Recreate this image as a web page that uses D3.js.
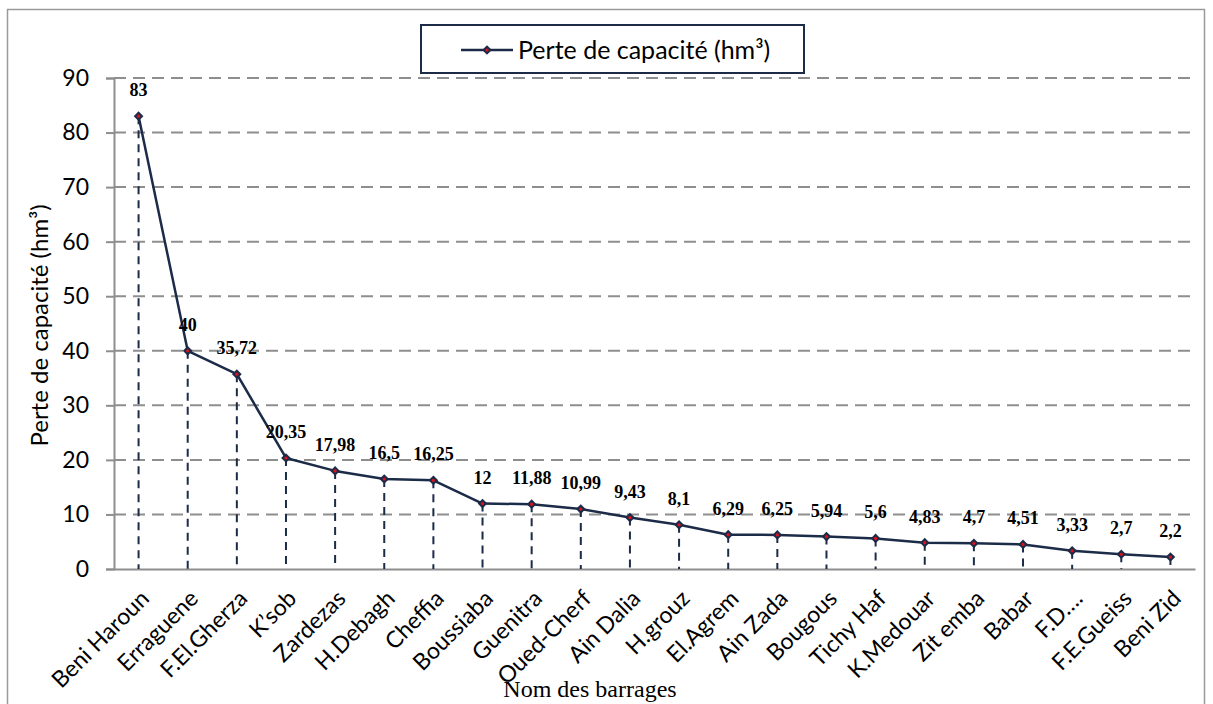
<!DOCTYPE html>
<html>
<head>
<meta charset="utf-8">
<script src="https://cdn.jsdelivr.net/npm/d3@7"></script>
<style>
  html, body { margin: 0; padding: 0; background: #fff; }
  svg { display: block; }
</style>
</head>
<body>
<svg id="chart" width="1213" height="704"></svg>
<script>
// ---- data ----
const categories = ["Beni Haroun", "Erraguene", "F.El.Gherza", "K\u2019sob", "Zardezas", "H.Debagh", "Cheffia",
  "Boussiaba", "Guenitra", "Oued-Cherf", "Ain Dalia", "H.grouz", "El.Agrem", "Ain Zada", "Bougous",
  "Tichy Haf", "K.Medouar", "Zit emba", "Babar", "F.D\u2026.", "F.E.Gueiss", "Beni Zid"];
const values = [83, 40, 35.72, 20.35, 17.98, 16.5, 16.25, 12, 11.88, 10.99, 9.43, 8.1, 6.29, 6.25, 5.94,
  5.6, 4.83, 4.7, 4.51, 3.33, 2.7, 2.2];
const valueLabels = ["83", "40", "35,72", "20,35", "17,98", "16,5", "16,25", "12", "11,88", "10,99", "9,43",
  "8,1", "6,29", "6,25", "5,94", "5,6", "4,83", "4,7", "4,51", "3,33", "2,7", "2,2"];
const yTicks = [0, 10, 20, 30, 40, 50, 60, 70, 80, 90];
const seriesName = "Perte de capacit\u00e9 (hm\u00b3)";
const yTitle = "Perte de capacit\u00e9 (hm\u00b3)";
const xTitle = "Nom des barrages";

// ---- layout ----
const svg = d3.select("#chart");
const W = 1213, H = 704;
const plot = { left: 114, right: 1195, top: 78, bottom: 569 };
const navy = "#1c2b48";
const grid = "#8e8e8e";
const sans = "Lato, 'Open Sans', sans-serif";
const serif = "'Liberation Serif', 'Times New Roman', serif";

svg.append("rect").attr("width", W).attr("height", H).attr("fill", "#fff");
// outer chart border
svg.append("rect").attr("x", 7.5).attr("y", 9.5).attr("width", 1197).attr("height", 705)
  .attr("fill", "none").attr("stroke", "#9a9a9a").attr("stroke-width", 1.5);

const x = d3.scaleBand().domain(categories).range([plot.left, plot.right]).padding(0);
const y = d3.scaleLinear().domain([0, 90]).range([plot.bottom, plot.top]);
const cx = c => x(c) + x.bandwidth() / 2;

// gridlines
svg.append("g").selectAll("line").data(yTicks.filter(t => t > 0)).join("line")
  .attr("x1", plot.left).attr("x2", plot.right)
  .attr("y1", d => y(d)).attr("y2", d => y(d))
  .attr("stroke", grid).attr("stroke-width", 2).attr("stroke-dasharray", "12,7");

// y axis
const yAxis = d3.axisLeft(y).tickValues(yTicks).tickSize(8).tickPadding(17).tickFormat(d3.format("d"));
const gy = svg.append("g").attr("transform", `translate(${plot.left},0)`).call(yAxis);
gy.select(".domain").attr("stroke", grid).attr("stroke-width", 2);
gy.selectAll(".tick line").attr("stroke", grid).attr("stroke-width", 2);
gy.selectAll(".tick text").attr("font-family", sans).attr("font-size", 23).attr("fill", "#000");

// x axis
const xAxis = d3.axisBottom(x).tickSize(0).tickFormat("");
const gx = svg.append("g").attr("transform", `translate(0,${plot.bottom})`).call(xAxis);
gx.select(".domain").attr("stroke", grid).attr("stroke-width", 2);

// x labels
svg.append("g").selectAll("text").data(categories).join("text")
  .attr("transform", d => `translate(${cx(d) + 12},${plot.bottom + 31}) rotate(-45)`)
  .attr("text-anchor", "end")
  .attr("font-family", sans).attr("font-size", 23).attr("fill", "#000")
  .text(d => d);

// drop lines
const pts = categories.map((c, i) => ({ c, v: values[i], lab: valueLabels[i] }));
svg.append("g").selectAll("line").data(pts).join("line")
  .attr("x1", d => cx(d.c)).attr("x2", d => cx(d.c))
  .attr("y1", d => y(d.v)).attr("y2", plot.bottom)
  .attr("stroke", navy).attr("stroke-width", 2).attr("stroke-dasharray", "8,6");

// series line
const line = d3.line().x(d => cx(d.c)).y(d => y(d.v));
svg.append("path").datum(pts).attr("d", line)
  .attr("fill", "none").attr("stroke", navy).attr("stroke-width", 2.5).attr("stroke-linejoin", "round");

// markers
const diamond = d3.symbol().type(d3.symbolDiamond2).size(60);
const mk = svg.append("g").selectAll("g").data(pts).join("g")
  .attr("transform", d => `translate(${cx(d.c)},${y(d.v)})`);
mk.append("path").attr("d", diamond).attr("fill", navy);
mk.append("circle").attr("r", 1.6).attr("fill", "#e0101a");

// data labels
svg.append("g").selectAll("text").data(pts).join("text")
  .attr("x", d => cx(d.c)).attr("y", d => y(d.v) - 20)
  .attr("text-anchor", "middle")
  .attr("font-family", serif).attr("font-weight", "bold").attr("font-size", 18).attr("fill", "#000")
  .text(d => d.lab);

// axis titles
svg.append("text")
  .attr("transform", `translate(48,${(plot.top + plot.bottom) / 2 + 2}) rotate(-90)`)
  .attr("text-anchor", "middle")
  .attr("font-family", sans).attr("font-size", 24).attr("fill", "#000")
  .text(yTitle);
svg.append("text")
  .attr("x", 590).attr("y", 697)
  .attr("text-anchor", "middle")
  .attr("font-family", serif).attr("font-size", 24).attr("fill", "#000")
  .text(xTitle);

// legend
const lg = svg.append("g");
lg.append("rect").attr("x", 421).attr("y", 25).attr("width", 383).attr("height", 48)
  .attr("fill", "#fff").attr("stroke", navy).attr("stroke-width", 2);
lg.append("line").attr("x1", 461).attr("x2", 513).attr("y1", 50).attr("y2", 50)
  .attr("stroke", navy).attr("stroke-width", 2.5);
lg.append("path").attr("transform", "translate(487,50)").attr("d", diamond).attr("fill", navy);
lg.append("circle").attr("cx", 487).attr("cy", 50).attr("r", 1.6).attr("fill", "#e0101a");
lg.append("text").attr("x", 518).attr("y", 50).attr("dy", "0.35em")
  .attr("font-family", sans).attr("font-size", 25).attr("fill", "#000")
  .text(seriesName);
</script>
</body>
</html>
